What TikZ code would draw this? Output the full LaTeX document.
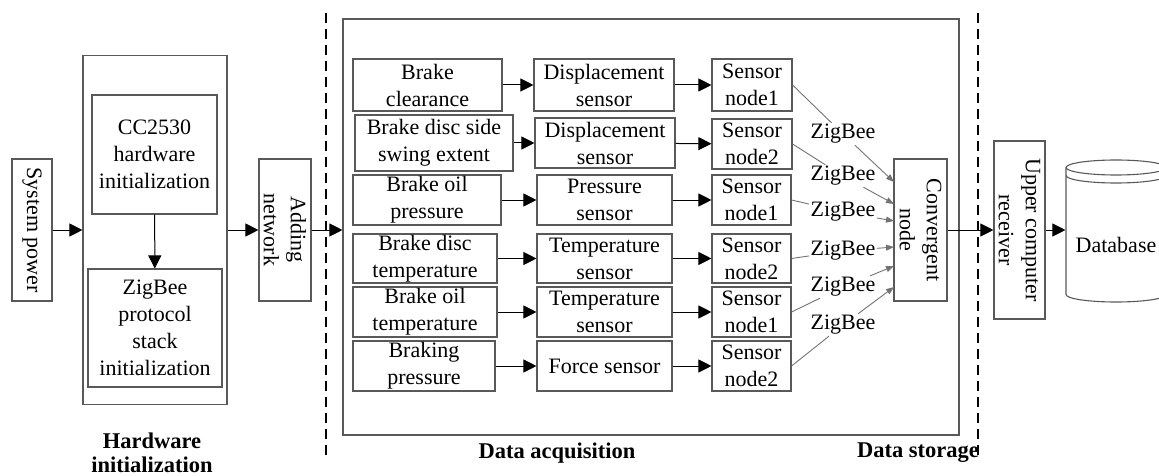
\documentclass[tikz,border=0pt]{standalone}
\usepackage{fontspec}
\setmainfont{Liberation Serif}
\usetikzlibrary{arrows.meta}

\begin{document}
\begin{tikzpicture}[x=1pt,y=-1pt,
  box/.style={draw=black!65,line width=1.1pt,inner sep=0pt,align=center,
    font=\fontsize{22}{27}\selectfont},
  flow/.style={-{Triangle[length=13pt,width=13pt]},line width=1pt},
  zig/.style={black!55,line width=0.9pt},
  zigtip/.style={-{Triangle[length=8pt,width=6pt]}},
  stage/.style={font=\fontsize{22.5}{23.5}\selectfont\bfseries,align=center},
  divider/.style={dash pattern=on 10pt off 6pt,line width=2.2pt}]
\useasboundingbox (0,0) rectangle (1159,476);
% (i) hardware initialization
\node[box,minimum width=142pt,minimum height=40pt,rotate=-90] (power) at (32,230) {System power};
\node[box,minimum width=144pt,minimum height=349pt] (hw) at (155,230) {};
\node[box,minimum width=125pt,minimum height=119pt] (cc) at (154.5,154.5) {CC2530\\hardware\\initialization};
\node[box,minimum width=134pt,minimum height=118pt] (stack) at (155,328) {ZigBee\\protocol\\stack\\initialization};
\node[box,minimum width=142pt,minimum height=52pt,rotate=-90] (join) at (285,230) {Adding\\network};
\draw[flow] (power) -- (hw);
\draw[flow] (cc) -- (stack);
\draw[flow] (hw) -- (join);
\node[stage] (hwlabel) at (152,453) {Hardware\\initialization};
\draw[divider] (326,13) -- (326,455);
% (ii) data acquisition
\node[box,minimum width=616pt,minimum height=416pt] (acq) at (651,227) {};
\draw[flow] (join) -- (join -| acq.west);
\node[box,minimum width=149pt,minimum height=52pt] (a1) at (427.5,85) {Brake\\clearance};
\node[box,minimum width=140pt,minimum height=52pt] (b1) at (604,85) {Displacement\\sensor};
\node[box,minimum width=80pt,minimum height=52pt] (s1) at (752,85) {Sensor\\node1};
\node[box,minimum width=158pt,minimum height=56pt] (a2) at (434,143) {Brake disc side\\swing extent};
\node[box,minimum width=140pt,minimum height=50pt] (b2) at (605,143) {Displacement\\sensor};
\node[box,minimum width=80pt,minimum height=50pt] (s2) at (752,144) {Sensor\\node2};
\node[box,minimum width=148pt,minimum height=50pt] (a3) at (427,200) {Brake oil\\pressure};
\node[box,minimum width=135pt,minimum height=50pt] (b3) at (604.5,200) {Pressure\\sensor};
\node[box,minimum width=79pt,minimum height=50pt] (s3) at (751.5,200) {Sensor\\node1};
\node[box,minimum width=144pt,minimum height=49pt] (a4) at (425,258.5) {Brake disc\\temperature};
\node[box,minimum width=135pt,minimum height=49pt] (b4) at (604.5,258.5) {Temperature\\sensor};
\node[box,minimum width=79pt,minimum height=49pt] (s4) at (751.5,258.5) {Sensor\\node2};
\node[box,minimum width=144pt,minimum height=50pt] (a5) at (425,312) {Brake oil\\temperature};
\node[box,minimum width=135pt,minimum height=50pt] (b5) at (604.5,312) {Temperature\\sensor};
\node[box,minimum width=79pt,minimum height=50pt] (s5) at (751.5,312) {Sensor\\node1};
\node[box,minimum width=142pt,minimum height=50pt] (a6) at (424,366) {Braking\\pressure};
\node[box,minimum width=135pt,minimum height=50pt] (b6) at (604.5,366) {Force sensor};
\node[box,minimum width=79pt,minimum height=50pt] (s6) at (751.5,366) {Sensor\\node2};
\draw[flow] (a1) -- (b1);
\draw[flow] (b1) -- (s1);
\draw[flow] (a2) -- (b2);
\draw[flow] (b2) -- (s2);
\draw[flow] (a3) -- (b3);
\draw[flow] (b3) -- (s3);
\draw[flow] (a4) -- (b4);
\draw[flow] (b4) -- (s4);
\draw[flow] (a5) -- (b5);
\draw[flow] (b5) -- (s5);
\draw[flow] (a6) -- (b6);
\draw[flow] (b6) -- (s6);
% ZigBee links
\node[box,minimum width=142pt,minimum height=53pt,rotate=-90] (conv) at (920.5,230) {Convergent\\node};
\node[box,draw=none,inner sep=1pt] (z1) at (843,134) {ZigBee};
\node[box,draw=none,inner sep=1pt] (z2) at (843,176) {ZigBee};
\node[box,draw=none,inner sep=1pt] (z3) at (843,212) {ZigBee};
\node[box,draw=none,inner sep=1pt] (z4) at (843,251) {ZigBee};
\node[box,draw=none,inner sep=1pt] (z5) at (843,287) {ZigBee};
\node[box,draw=none,inner sep=1pt] (z6) at (843,325) {ZigBee};
\coordinate (c1) at (894,182);
\coordinate (c2) at (894,204);
\coordinate (c3) at (894,221);
\coordinate (c4) at (894,247);
\coordinate (c5) at (894,266);
\coordinate (c6) at (894,287);
\draw[zig] (s1.east) -- (z1);
\draw[zig,zigtip] (z1) -- (c1);
\draw[zig] (s2.east) -- (z2);
\draw[zig,zigtip] (z2) -- (c2);
\draw[zig] (s3.east) -- (z3);
\draw[zig,zigtip] (z3) -- (c3);
\draw[zig] (s4.east) -- (z4);
\draw[zig,zigtip] (z4) -- (c4);
\draw[zig] (s5.east) -- (z5);
\draw[zig,zigtip] (z5) -- (c5);
\draw[zig] (s6.east) -- (z6);
\draw[zig,zigtip] (z6) -- (c6);
\node[stage] (acqlabel) at (557,453) {Data acquisition};
% (iii) data storage
\draw[divider] (978,13) -- (978,455);
\node[box,minimum width=178pt,minimum height=51pt,rotate=-90] (upper) at (1019.5,230) {Upper computer\\receiver};
\node[box,draw=none,minimum width=100pt] (db) at (1116,245) {Database};
\draw[black!65,line width=1.1pt] (1066,167.5) -- (1066,294.5)
  arc[start angle=180,end angle=360,x radius=50pt,y radius=7.5pt] -- (1166,167.5);
\draw[black!65,line width=1.1pt] (1116,167.5) ellipse[x radius=50pt,y radius=7.5pt];
\draw[black!65,line width=1.1pt] (1066,175.5) arc[start angle=180,end angle=360,x radius=50pt,y radius=7.5pt];
\draw[flow] (conv) -- (upper);
\draw[flow] (upper) -- (upper -| db.west);
\node[stage] (storelabel) at (918,453) {Data storage};
\end{tikzpicture}
\end{document}
